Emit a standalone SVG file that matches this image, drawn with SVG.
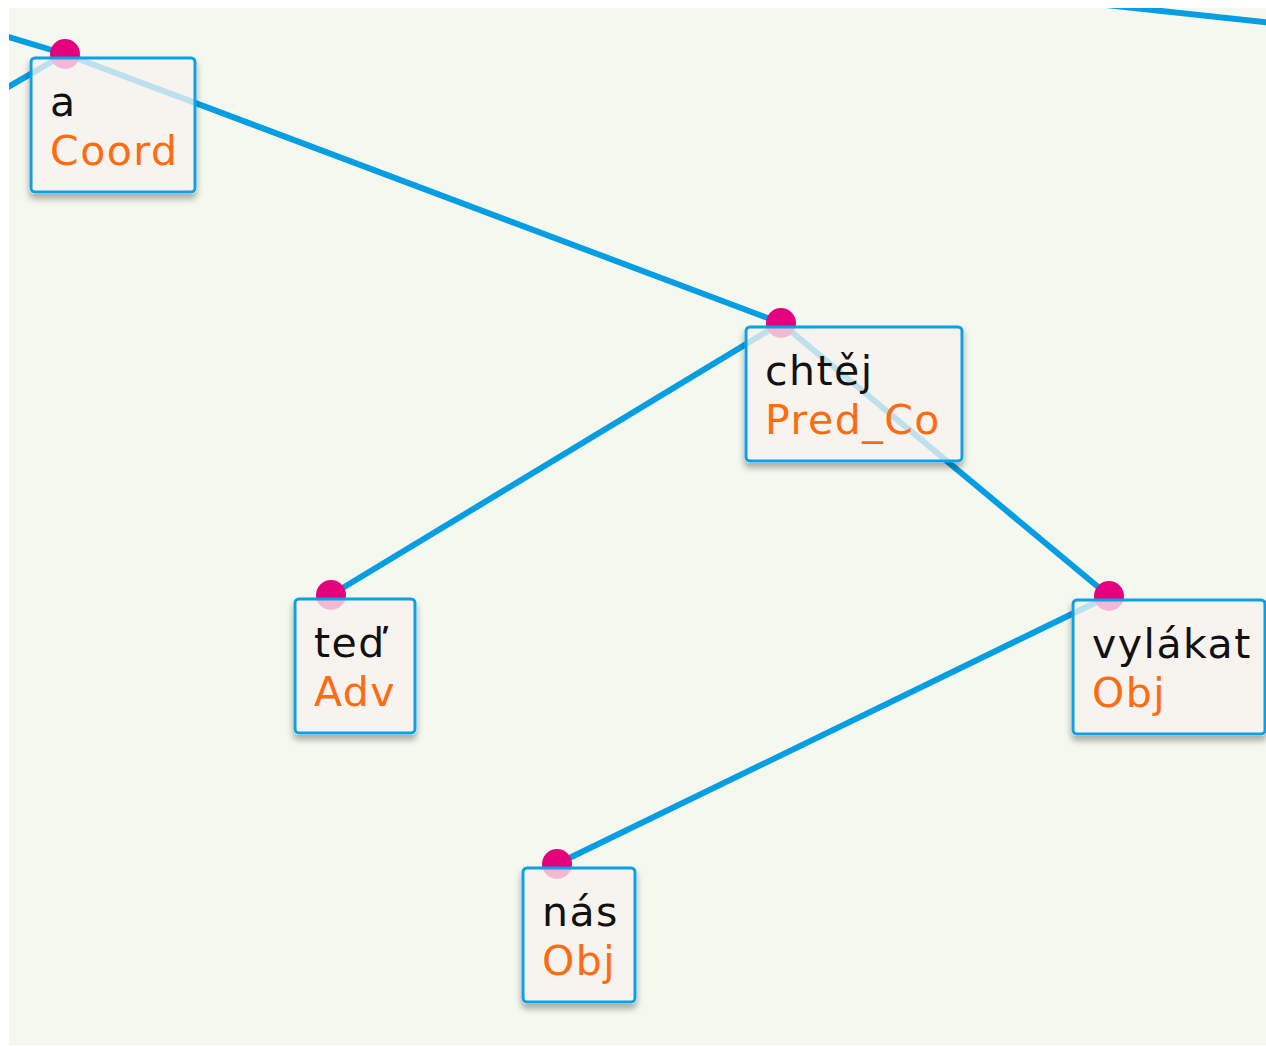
<svg xmlns="http://www.w3.org/2000/svg" width="1266" height="1046" viewBox="0 0 1266 1046">
<style>
.edge{stroke:#069ee3;stroke-width:6;fill:none}
.dot{fill:#e5007e}
.box{fill:#f7f3ef;fill-opacity:0.76;stroke:#0aa0e6;stroke-width:3}
.t{font-family:"DejaVu Sans",Verdana,sans-serif;font-size:41px;letter-spacing:1.5px}
.w{fill:#111}
.f{fill:#ff6b10}
</style>
<defs>
<clipPath id="clip"><rect x="9" y="8" width="1257" height="1037"/></clipPath>
<filter id="sh" x="-20%" y="-20%" width="140%" height="150%">
<feComponentTransfer in="SourceAlpha" result="solid"><feFuncA type="linear" slope="20"/></feComponentTransfer>
<feGaussianBlur in="solid" stdDeviation="3" result="b"/>
<feOffset in="b" dy="5" result="o"/>
<feFlood flood-color="#000" flood-opacity="0.3"/>
<feComposite in2="o" operator="in" result="s"/>
<feComposite in="s" in2="solid" operator="out" result="s2"/>
<feMerge><feMergeNode in="s2"/><feMergeNode in="SourceGraphic"/></feMerge>
</filter>
</defs>
<rect x="9" y="8" width="1257" height="1037" fill="#f5f8ee"/>
<g clip-path="url(#clip)">
<g id="edges">
<line class="edge" x1="-100" y1="4" x2="65" y2="54"/>
<line class="edge" x1="65" y1="54" x2="-40" y2="115"/>
<line class="edge" x1="1000" y1="-6.5" x2="1300" y2="26"/>
<line class="edge" x1="65" y1="54" x2="781" y2="323"/>
<line class="edge" x1="781" y1="323" x2="331" y2="595"/>
<line class="edge" x1="781" y1="323" x2="1109" y2="596"/>
<line class="edge" x1="1109" y1="596" x2="557" y2="864"/>
</g>
<g id="n-a">
<circle class="dot" cx="65" cy="54" r="15"/>
<rect class="box" x="31" y="58" width="164" height="134" rx="4" filter="url(#sh)"/>
<text class="t w" x="50" y="116">a</text>
<text class="t f" x="50" y="165">Coord</text>
</g>
<g id="n-chtej">
<circle class="dot" cx="781" cy="323" r="15"/>
<rect class="box" x="746" y="327" width="216" height="134" rx="4" filter="url(#sh)"/>
<text class="t w" x="765" y="385">chtěj</text>
<text class="t f" x="765" y="434">Pred_Co</text>
</g>
<g id="n-ted">
<circle class="dot" cx="331" cy="595" r="15"/>
<rect class="box" x="295" y="599" width="120" height="134" rx="4" filter="url(#sh)"/>
<text class="t w" x="314" y="657">teď</text>
<text class="t f" x="314" y="706">Adv</text>
</g>
<g id="n-vylakat">
<circle class="dot" cx="1109" cy="596" r="15"/>
<rect class="box" x="1073" y="600" width="192" height="134" rx="4" filter="url(#sh)"/>
<text class="t w" x="1092" y="658">vylákat</text>
<text class="t f" x="1092" y="707">Obj</text>
</g>
<g id="n-nas">
<circle class="dot" cx="557" cy="864" r="15"/>
<rect class="box" x="523" y="868" width="112" height="134" rx="4" filter="url(#sh)"/>
<text class="t w" x="542" y="926">nás</text>
<text class="t f" x="542" y="975">Obj</text>
</g>
</g>
</svg>
